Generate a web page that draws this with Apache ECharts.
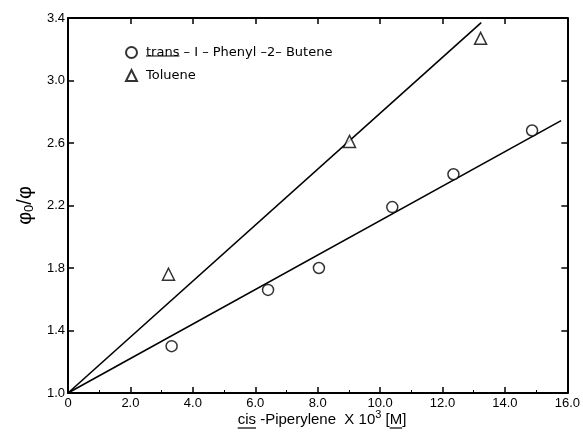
<!DOCTYPE html>
<html><head><meta charset="utf-8">
<script src="https://cdn.jsdelivr.net/npm/echarts@6/dist/echarts.min.js"></script>
<style>html,body{margin:0;padding:0;background:#fff}#c{width:583px;height:435px}</style>
</head><body><div id="c"></div>
<script>
// Data
const transX = [3.32, 6.41, 8.04, 10.39, 12.35, 14.87];
const transY = [1.30, 1.66, 1.80, 2.19, 2.40, 2.68];
const tolX = [3.22, 9.02, 13.22];
const tolY = [1.76, 2.61, 3.27];
// fitted straight lines (end points)
const fitTransX = [0, 15.8];
const fitTransY = [1.0, 2.743];
const fitTolX = [0, 13.24];
const fitTolY = [1.0, 3.37];
const xTicks = [0, 2, 4, 6, 8, 10, 12, 14, 16];
const yTicks = [1.0, 1.4, 1.8, 2.2, 2.6, 3.0, 3.4];
const seriesNames = ['trans – I – Phenyl –2– Butene', 'Toluene'];

const FONT = 'Liberation Sans';
const LFONT = 'DejaVu Sans';
const zip = (a, b) => a.map((v, i) => [v, b[i]]);
const chart = echarts.init(document.getElementById('c'), null, {renderer: 'canvas'});

const tickCommon = {inside: true, length: 6, lineStyle: {color: '#000', width: 1.5}};
const axisLine = {show: true, onZero: false, lineStyle: {color: '#000', width: 2}};

// measure text for underlines
const cv = document.createElement('canvas').getContext('2d');
function tw(t, size, f) { cv.font = size + 'px "' + (f || FONT) + '"'; return cv.measureText(t).width; }

// x-axis title pieces
const tSize = 15;
const parts = [['cis', tSize, 0], [' -Piperylene  X 10', tSize, 0], ['3', 11, -5], [' [', tSize, 0], ['M', tSize, 0], [']', tSize, 0]];
const widths = parts.map(p => tw(p[0], p[1]));
const total = widths.reduce((a, b) => a + b, 0);
const cx = 322, ty = 420;
const x0 = cx - total / 2;
const graphics = [];
let cur = x0;
parts.forEach(([t, s, dy], i) => {
  graphics.push({type: 'text', silent: true,
    style: {x: cur, y: ty + dy, text: t, fontSize: s, fontFamily: FONT, fill: '#000', verticalAlign: 'middle', align: 'left'}});
  cur += widths[i];
});
graphics.push({type: 'line', silent: true, shape: {x1: x0, y1: ty + 8, x2: x0 + widths[0], y2: ty + 8}, style: {stroke: '#000', lineWidth: 1.2}});
const mx = x0 + widths[0] + widths[1] + widths[2] + widths[3];
graphics.push({type: 'line', silent: true, shape: {x1: mx, y1: ty + 8, x2: mx + widths[4], y2: ty + 8}, style: {stroke: '#000', lineWidth: 1.2}});
// underline "trans" in legend
const lw = tw('trans', 13, LFONT);
graphics.push({type: 'line', silent: true, shape: {x1: 146, y1: 56, x2: 146 + lw, y2: 56}, style: {stroke: '#000', lineWidth: 1.2}});

chart.setOption({
  animation: false,
  backgroundColor: '#fff',
  textStyle: {fontFamily: FONT, color: '#000'},
  grid: {left: 68, right: 15, top: 18, bottom: 42},
  legend: {
    data: seriesNames, orient: 'vertical', left: 120, top: 41, itemGap: 10,
    itemWidth: 11, itemHeight: 11,
    textStyle: {fontFamily: LFONT, fontSize: 13, color: '#000', padding: [0, 0, 0, 4]}
  },
  xAxis: [{
    type: 'value', min: 0, max: 16, interval: 2, position: 'bottom',
    axisLine, axisTick: tickCommon, minorTick: {show: true, splitNumber: 2, length: 3, lineStyle: {color: '#000'}},
    splitLine: {show: false},
    axisLabel: {color: '#000', fontSize: 13, margin: 4, fontFamily: FONT,
      formatter: v => xTicks.includes(v) ? (v === 0 ? '0' : v.toFixed(1)) : ''}
  }, {
    type: 'value', min: 0, max: 16, interval: 2, position: 'top',
    axisLine, axisTick: tickCommon, axisLabel: {show: false}, splitLine: {show: false}
  }],
  yAxis: [{
    type: 'value', min: 1.0, max: 3.4, interval: 0.4, position: 'left',
    axisLine, axisTick: tickCommon, splitLine: {show: false},
    axisLabel: {color: '#000', fontSize: 13, margin: 3, fontFamily: FONT,
      formatter: v => yTicks.some(t => Math.abs(t - v) < 1e-6) ? v.toFixed(1) : ''},
    name: 'φ{s|0}/φ', nameLocation: 'middle', nameGap: 30, nameRotate: 90,
    nameTextStyle: {fontSize: 20, fontFamily: FONT, color: '#000',
      rich: {s: {fontSize: 13, fontFamily: FONT, verticalAlign: 'bottom', padding: [8, 0, 0, 0]}}}
  }, {
    type: 'value', min: 1.0, max: 3.4, interval: 0.4, position: 'right',
    axisLine, axisTick: tickCommon, axisLabel: {show: false}, splitLine: {show: false}
  }],
  series: [
    {name: 'fitTrans', type: 'line', data: zip(fitTransX, fitTransY), symbol: 'none',
      lineStyle: {color: '#000', width: 1.6}, z: 1},
    {name: 'fitTol', type: 'line', data: zip(fitTolX, fitTolY), symbol: 'none',
      lineStyle: {color: '#000', width: 1.6}, z: 1},
    {name: seriesNames[0], type: 'scatter', data: zip(transX, transY), symbol: 'circle', symbolSize: 11,
      itemStyle: {color: '#fff', borderColor: '#000', borderWidth: 1.5}, z: 3},
    {name: seriesNames[1], type: 'scatter', data: zip(tolX, tolY), symbol: 'triangle', symbolSize: 12,
      itemStyle: {color: '#fff', borderColor: '#000', borderWidth: 1.5}, z: 3}
  ],
  graphic: graphics
});
</script></body></html>
